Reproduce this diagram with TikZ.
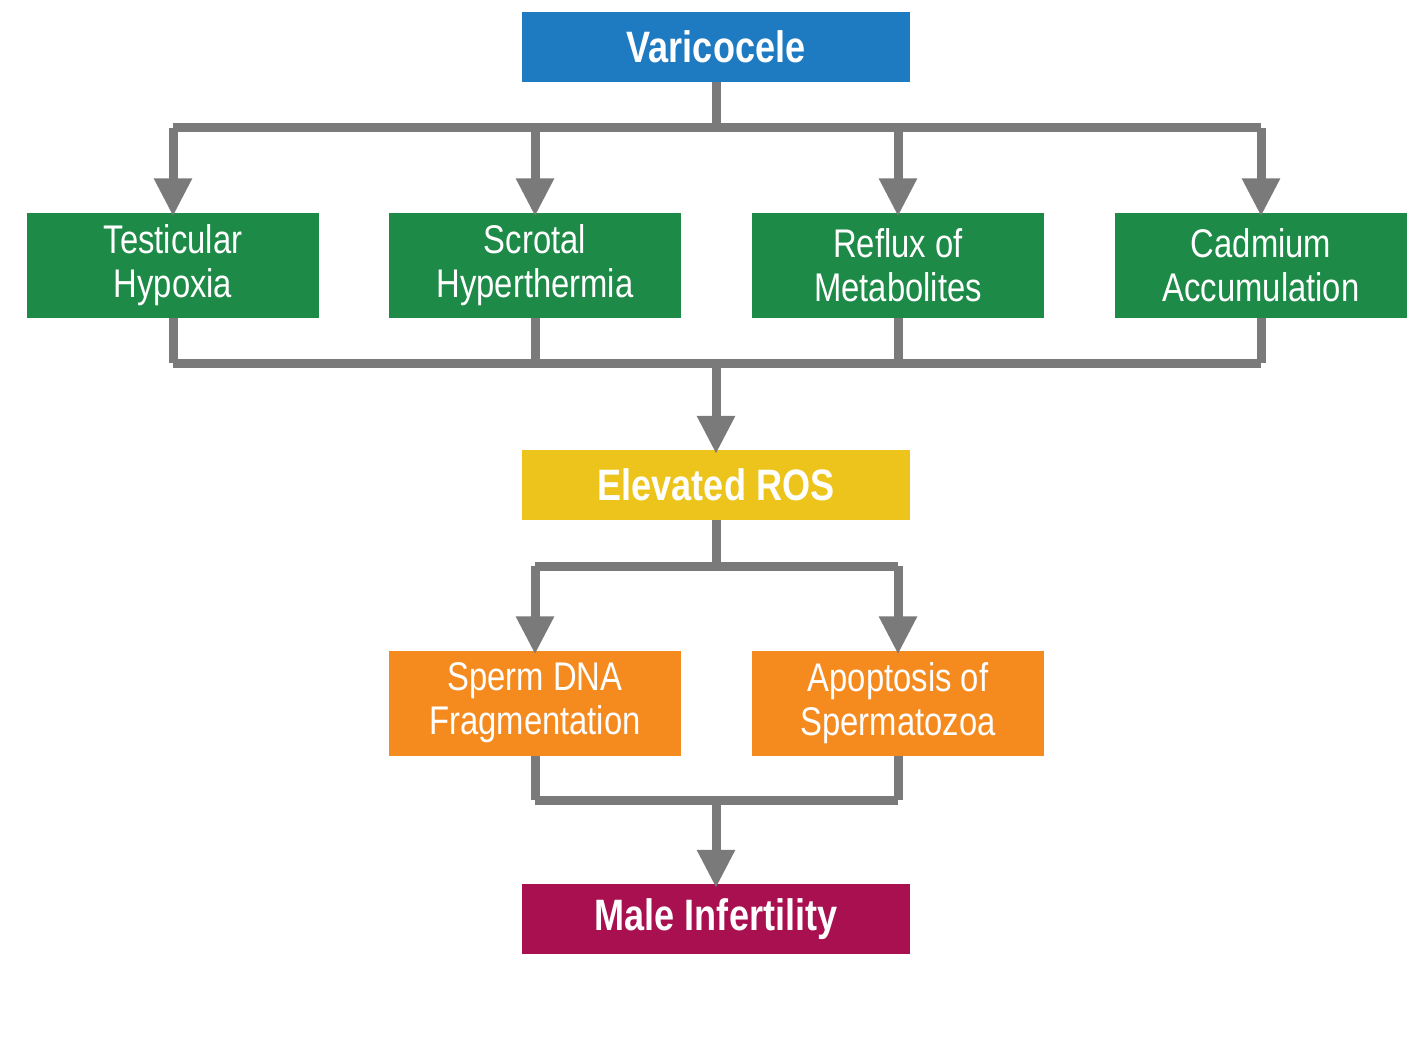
\documentclass[tikz,border=0pt]{standalone}
\usepackage{fontspec}
\setmainfont{Liberation Sans}[FakeStretch=0.82]
\usetikzlibrary{arrows.meta}
\definecolor{cblue}{HTML}{1F7BC1}
\definecolor{cgreen}{HTML}{1E8A47}
\definecolor{cyellow}{HTML}{EDC41B}
\definecolor{corange}{HTML}{F58A1F}
\definecolor{cmar}{HTML}{A8104F}
\definecolor{cgray}{HTML}{7A7A7A}
\begin{document}
\begin{tikzpicture}[x=1pt,y=-1pt,
 box/.style={draw=none,minimum width=292pt,minimum height=105pt,align=center,text=white,font=\fontsize{40}{44}\selectfont,inner sep=0pt},
 big/.style={draw=none,minimum width=388pt,minimum height=70pt,text=white,font=\fontsize{44}{48}\selectfont\bfseries,inner sep=0pt},
 ln/.style={draw=cgray,line width=9pt},
 ar/.style={ln,-{Triangle[width=36pt,length=38pt]}}]
\useasboundingbox (0,0) rectangle (1412,1043);
\node[big,fill=cblue] (v) at (716,47) {Varicocele};
\node[box,fill=cgreen] (g1) at (173,265) {Testicular\\Hypoxia};
\node[box,fill=cgreen] (g2) at (535,265) {Scrotal\\Hyperthermia};
\node[box,fill=cgreen] (g3) at (898,265) {Reflux of\\Metabolites};
\node[box,fill=cgreen] (g4) at (1261,265) {Cadmium\\Accumulation};
\node[big,fill=cyellow] (r) at (716,485) {Elevated ROS};
\node[box,fill=corange] (o1) at (535,703) {Sperm DNA\\Fragmentation};
\node[box,fill=corange] (o2) at (898,703) {Apoptosis of\\Spermatozoa};
\node[big,fill=cmar] (m) at (716,919) {Male Infertility};
\coordinate (t) at (716,128);
\coordinate (b) at (716,363);
\coordinate (c) at (716,566);
\coordinate (d) at (716,800);
\draw[ln] (v.south) -- (t);
\draw[ln] (173,128) -- (1261,128);
\foreach \n in {g1,g2,g3,g4}{\draw[ar] (t -| \n) -- ([yshift=-4pt]\n.north);}
\draw[ln] (173,363) -- (1261,363);
\foreach \n in {g1,g2,g3,g4}{\draw[ln] (\n.south) -- (b -| \n);}
\draw[ar] (b) -- ([yshift=-4pt]r.north);
\draw[ln] (r.south) -- (c);
\draw[ln] (535,566) -- (898,566);
\foreach \n in {o1,o2}{\draw[ar] (c -| \n) -- ([yshift=-4pt]\n.north);}
\foreach \n in {o1,o2}{\draw[ln] (\n.south) -- (d -| \n);}
\draw[ln] (535,800) -- (898,800);
\draw[ar] (d) -- ([yshift=-4pt]m.north);
\end{tikzpicture}
\end{document}
